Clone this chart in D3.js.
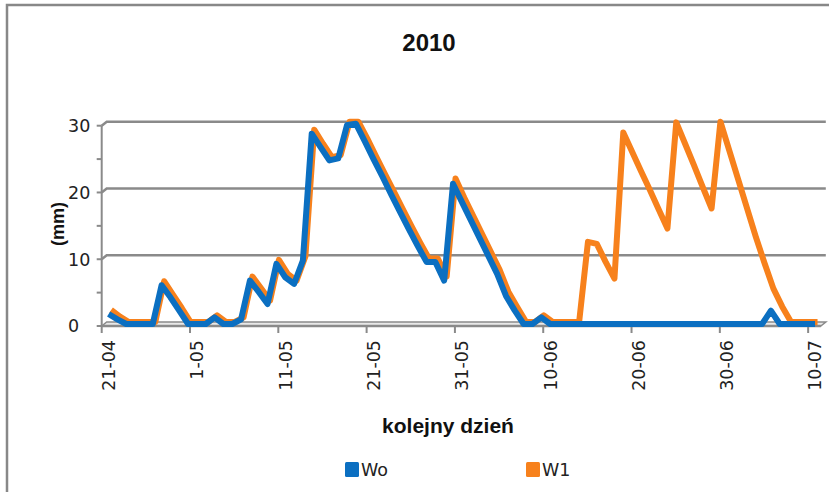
<!DOCTYPE html>
<html>
<head>
<meta charset="utf-8">
<script src="https://cdn.jsdelivr.net/npm/d3@7"></script>
<style>
  html, body { margin: 0; padding: 0; background: #fff; }
  svg { display: block; }
  .tick-label { font-family: "DejaVu Sans", sans-serif; font-size: 17.5px; fill: #222; }
  .bold-label { font-family: "Liberation Sans", sans-serif; font-weight: bold; fill: #111; }
</style>
</head>
<body>
<svg id="chart" width="829" height="492"></svg>
<script>
// --- DATA ---

// first day of the series, one value per day (21-04 .. 10-07)
const startDate = new Date(2010, 3, 21);
const endDate = new Date(2010, 6, 12);

const seriesNames = ["Wo", "W1"];

const woValues = [
  1.5, 0.7, 0, 0, 0, 0, 5.8, 4, 2, 0,
  0, 0, 1, 0, 0, 0.7, 6.5, 4.8, 3, 9,
  7, 6, 9.5, 28.5, 26.5, 24.5, 24.8, 29.8, 30, 27.4,
  24.7, 22.1, 19.4, 16.8, 14.2, 11.7, 9.3, 9.3, 6.5, 21,
  18.3, 15.6, 12.9, 10.2, 7.5, 4.2, 2, 0, 0, 1,
  0, 0, 0, 0, 0, 0, 0, 0, 0, 0,
  0, 0, 0, 0, 0, 0, 0, 0, 0, 0,
  0, 0, 0, 0, 0, 2, 0, 0, 0, 0,
  0
];

const w1Values = [
  1.8, 0.8, 0, 0, 0, 0, 6.1, 4.1, 2.1, 0,
  0, 0, 1, 0, 0, 0.7, 6.8, 5, 3.2, 9.3,
  7.2, 6.2, 9.8, 28.8, 26.7, 24.7, 25, 30, 30, 27.5,
  24.8, 22.2, 19.6, 17, 14.4, 11.9, 9.5, 9.5, 6.8, 21.5,
  18.6, 15.9, 13.2, 10.5, 7.8, 4.5, 2.2, 0, 0, 1,
  0, 0, 0, 0, 12, 11.7, 9, 6.5, 28.4, 25.5,
  22.6, 19.8, 16.9, 14, 29.9, 26.7, 23.5, 20.2, 17, 30,
  25.7, 21.4, 17.1, 12.8, 8.8, 5, 2.3, 0, 0, 0,
  0
];

// tick labels every 10 days
const xTickLabels = ["21-04", "1-05", "11-05", "21-05", "31-05", "10-06", "20-06", "30-06", "10-07"];
const yTicks = [0, 10, 20, 30];
const yMinorTicks = [0, 5, 10, 15, 20, 25, 30];

// --- CONFIG ---
const colors = { Wo: "#0b6fc1", W1: "#f7811c" };
const gridColor = "#8a8a8a";
// 3D depth of the plot: back wall shift relative to the front axes
const depthX = 5, depthY = -4;
const seriesDepth = { Wo: 0.5, W1: 1.0 };

const svg = d3.select("#chart");

const x = d3.scaleTime().domain([startDate, endDate]).range([101.7, 825.8]);
const y = d3.scaleLinear().domain([0, 30]).range([326, 125.7]);

const xTickDates = xTickLabels.map((_, i) => d3.timeDay.offset(startDate, i * 10));

// outer chart frame
svg.append("rect")
  .attr("x", 7).attr("y", 5)
  .attr("width", 830).attr("height", 500)
  .attr("fill", "none")
  .attr("stroke", "#888")
  .attr("stroke-width", 2.5);

// title
svg.append("text")
  .attr("class", "bold-label")
  .attr("x", 429).attr("y", 51)
  .attr("text-anchor", "middle")
  .style("font-size", "24px")
  .text("2010");

// --- PLOT FRAME (pseudo 3D) ---
const x0 = x.range()[0], x1 = x.range()[1] - depthX;

// floor between front axis and back wall
svg.append("path")
  .attr("d", `M${x0},${y(0)} L${x0 + depthX},${y(0) + depthY} L${x1 + depthX},${y(0) + depthY} L${x1},${y(0)} Z`)
  .attr("fill", "#e8e8e8")
  .attr("stroke", gridColor)
  .attr("stroke-width", 1.5);

// gridlines on the back wall with a short diagonal on the side wall
yTicks.filter(v => v > 0).forEach(v => {
  svg.append("path")
    .attr("d", `M${x0},${y(v)} L${x0 + depthX},${y(v) + depthY} L${x1 + depthX},${y(v) + depthY}`)
    .attr("fill", "none")
    .attr("stroke", gridColor)
    .attr("stroke-width", 2.5);
});

// front axis lines
svg.append("line")
  .attr("x1", x0).attr("x2", x0)
  .attr("y1", y(30)).attr("y2", y(0))
  .attr("stroke", gridColor).attr("stroke-width", 2);
svg.append("line")
  .attr("x1", x0).attr("x2", x1)
  .attr("y1", y(0)).attr("y2", y(0))
  .attr("stroke", gridColor).attr("stroke-width", 2.5);

// y axis ticks and labels
svg.selectAll(".y-minor")
  .data(yMinorTicks)
  .join("line")
  .attr("x1", x0 - 5).attr("x2", x0)
  .attr("y1", d => y(d)).attr("y2", d => y(d))
  .attr("stroke", gridColor).attr("stroke-width", 2);

svg.selectAll(".y-label")
  .data(yTicks)
  .join("text")
  .attr("class", "tick-label")
  .attr("x", 68)
  .attr("y", d => y(d))
  .attr("dy", "0.36em")
  .attr("text-anchor", "start")
  .text(d => d);

// x axis ticks and rotated labels
svg.selectAll(".x-tick")
  .data(xTickDates)
  .join("line")
  .attr("x1", d => x(d)).attr("x2", d => x(d))
  .attr("y1", y(0)).attr("y2", y(0) + 7)
  .attr("stroke", gridColor).attr("stroke-width", 2);

svg.selectAll(".x-label")
  .data(xTickDates)
  .join("text")
  .attr("class", "tick-label")
  .attr("transform", d => `translate(${x(d) + 7},340) rotate(-90)`)
  .attr("dy", "0.36em")
  .attr("text-anchor", "end")
  .text((d, i) => xTickLabels[i]);

// axis titles
svg.append("text")
  .attr("class", "bold-label")
  .attr("transform", "translate(64,224) rotate(-90)")
  .attr("text-anchor", "middle")
  .style("font-size", "18px")
  .text("(mm)");

svg.append("text")
  .attr("class", "bold-label")
  .attr("x", 448).attr("y", 433)
  .attr("text-anchor", "middle")
  .style("font-size", "21px")
  .text("kolejny dzień");

// --- SERIES ---
function seriesLine(name) {
  const k = seriesDepth[name];
  return d3.line()
    .x((d, i) => x(d3.timeHour.offset(d3.timeDay.offset(startDate, i), 12)) + depthX * k)
    .y(d => y(d) + depthY * k)
    .curve(d3.curveLinear);
}

// W1 sits deeper, drawn first so Wo covers it
svg.append("path")
  .datum(w1Values)
  .attr("fill", "none")
  .attr("stroke", colors.W1)
  .attr("stroke-width", 6)
  .attr("stroke-linejoin", "round")
  .attr("d", seriesLine("W1"));

svg.append("path")
  .datum(woValues)
  .attr("fill", "none")
  .attr("stroke", colors.Wo)
  .attr("stroke-width", 6)
  .attr("stroke-linejoin", "round")
  .attr("d", seriesLine("Wo"));

// --- LEGEND ---
const legendItems = [
  { name: "Wo", x: 345 },
  { name: "W1", x: 526 }
];
const legend = svg.selectAll(".legend")
  .data(legendItems)
  .join("g")
  .attr("transform", d => `translate(${d.x},462)`);

legend.append("rect")
  .attr("width", 14).attr("height", 15)
  .attr("rx", 1.5)
  .attr("fill", d => colors[d.name]);

legend.append("text")
  .attr("class", "tick-label")
  .attr("x", 16).attr("y", 14)
  .style("font-size", "17.5px")
  .text(d => d.name);
</script>
</body>
</html>
